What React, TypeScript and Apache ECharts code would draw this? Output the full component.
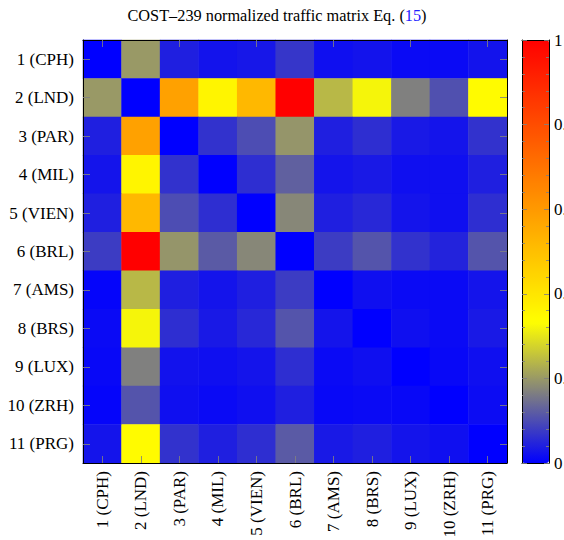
import React, { useEffect, useRef } from "react";
import * as echarts from "echarts";

const cities = [
  "1 (CPH)", "2 (LND)", "3 (PAR)", "4 (MIL)", "5 (VIEN)", "6 (BRL)",
  "7 (AMS)", "8 (BRS)", "9 (LUX)", "10 (ZRH)", "11 (PRG)",
];

const rowCPH = [0, 0.2, 0.04, 0.025, 0.03, 0.07, 0.02, 0.025, 0.013, 0.013, 0.025];
const rowLND = [0.2, 0, 0.58, 0.36, 0.52, 1.0, 0.24, 0.32, 0.167, 0.105, 0.345];
const rowPAR = [0.04, 0.58, 0, 0.065, 0.1, 0.195, 0.04, 0.06, 0.033, 0.026, 0.065];
const rowMIL = [0.026, 0.36, 0.065, 0, 0.06, 0.125, 0.026, 0.033, 0.02, 0.02, 0.04];
const rowVIEN = [0.04, 0.52, 0.1, 0.06, 0, 0.177, 0.04, 0.052, 0.026, 0.02, 0.06];
const rowBRL = [0.078, 1.0, 0.195, 0.118, 0.177, 0, 0.078, 0.11, 0.065, 0.046, 0.11];
const rowAMS = [0.007, 0.24, 0.04, 0.026, 0.04, 0.078, 0, 0.02, 0.013, 0.013, 0.026];
const rowBRS = [0.013, 0.32, 0.06, 0.033, 0.052, 0.11, 0.026, 0, 0.02, 0.013, 0.033];
const rowLUX = [0.01, 0.167, 0.024, 0.02, 0.026, 0.06, 0.013, 0.02, 0, 0.01, 0.02];
const rowZRH = [0.007, 0.11, 0.02, 0.013, 0.02, 0.04, 0.01, 0.013, 0.01, 0, 0.016];
const rowPRG = [0.026, 0.345, 0.065, 0.04, 0.06, 0.118, 0.033, 0.04, 0.026, 0.02, 0];

const matrixRows = [rowCPH, rowLND, rowPAR, rowMIL, rowVIEN, rowBRL, rowAMS, rowBRS, rowLUX, rowZRH, rowPRG];

const colorbarMin = 0;
const colorbarMax = 1;
const colorbarStep = 0.2;

const FONT = "'Liberation Serif', 'Times New Roman', serif";
const TICK = "rgba(128,128,128,0.85)";

export default function App() {
  const ref = useRef<HTMLDivElement>(null);

  useEffect(() => {
    if (!ref.current) return;
    const chart = echarts.init(ref.current, undefined, { renderer: "svg" });

    const data: [number, number, number][] = [];
    matrixRows.forEach((row, r) => {
      row.forEach((v, c) => data.push([c, r, v]));
    });

    const catTickInside = { show: true, inside: true, length: 7, alignWithLabel: true, lineStyle: { color: TICK, width: 1 } };
    const blackLine = { show: true, onZero: false, lineStyle: { color: "#000", width: 1 } };

    chart.setOption({
      animation: false,
      backgroundColor: "#fff",
      title: {
        text: "COST–239 normalized traffic matrix Eq. ({b|15})",
        left: 272,
        textAlign: "center",
        top: 2,
        textStyle: {
          fontFamily: FONT,
          fontSize: 16.3,
          fontWeight: "normal",
          color: "#000",
          rich: { b: { fontFamily: FONT, fontSize: 16.3, color: "#2020ff" } },
        },
      },
      grid: [
        { left: 83, top: 40, width: 424, height: 423, containLabel: false, outerBoundsMode: "none" },
        { left: 522, top: 40, width: 27, height: 423, containLabel: false, outerBoundsMode: "none" },
      ],
      xAxis: [
        {
          type: "category", gridIndex: 0, position: "bottom", data: cities, z: 10,
          axisLine: blackLine, axisTick: catTickInside,
          axisLabel: { rotate: 90, fontFamily: FONT, fontSize: 17, color: "#000", margin: 8 },
          splitLine: { show: false },
        },
        {
          type: "category", gridIndex: 0, position: "top", data: cities, z: 10,
          axisLine: blackLine, axisTick: catTickInside, axisLabel: { show: false },
          splitLine: { show: false },
        },
        {
          type: "value", gridIndex: 1, position: "bottom", min: 0, max: 1, z: 10,
          axisLine: blackLine, axisTick: { show: false }, axisLabel: { show: false }, splitLine: { show: false },
        },
        {
          type: "value", gridIndex: 1, position: "top", min: 0, max: 1, z: 10,
          axisLine: blackLine, axisTick: { show: false }, axisLabel: { show: false }, splitLine: { show: false },
        },
      ],
      yAxis: [
        {
          type: "category", gridIndex: 0, position: "left", inverse: true, data: cities, z: 10,
          axisLine: blackLine, axisTick: catTickInside,
          axisLabel: { fontFamily: FONT, fontSize: 17, color: "#000", margin: 9 },
          splitLine: { show: false },
        },
        {
          type: "category", gridIndex: 0, position: "right", inverse: true, data: cities, z: 10,
          axisLine: blackLine, axisTick: catTickInside, axisLabel: { show: false },
          splitLine: { show: false },
        },
        {
          type: "value", gridIndex: 1, position: "left", min: colorbarMin, max: colorbarMax, interval: colorbarStep, z: 10,
          axisLine: blackLine,
          axisTick: { show: true, inside: true, length: 5, lineStyle: { color: TICK } },
          minorTick: { show: true, splitNumber: 5, length: 3, lineStyle: { color: TICK } },
          axisLabel: { show: false }, splitLine: { show: false },
        },
        {
          type: "value", gridIndex: 1, position: "right", min: colorbarMin, max: colorbarMax, interval: colorbarStep, z: 10,
          axisLine: blackLine,
          axisTick: { show: true, inside: true, length: 5, lineStyle: { color: TICK } },
          minorTick: { show: true, splitNumber: 5, length: 3, lineStyle: { color: TICK } },
          axisLabel: { show: true, fontFamily: FONT, fontSize: 17, color: "#000", margin: 5 },
          splitLine: { show: false },
        },
      ],
      visualMap: {
        type: "continuous",
        seriesIndex: 0,
        min: colorbarMin,
        max: colorbarMax,
        calculable: false,
        show: true,
        orient: "vertical",
        left: 522,
        top: 40,
        itemWidth: 27,
        itemHeight: 423,
        padding: 0,
        text: ["", ""],
        textGap: 0,
        inRange: { color: ["#0000ff", "#ffff00", "#ff8000", "#ff0000"] },
      },
      series: [
        {
          type: "heatmap",
          xAxisIndex: 0,
          yAxisIndex: 0,
          data,
          itemStyle: { borderWidth: 0 },
          emphasis: { disabled: true },
        },
      ],
    });

    return () => chart.dispose();
  }, []);

  return (
    <div
      ref={ref}
      style={{ position: "fixed", left: 0, top: 0, width: 564, height: 540, background: "#fff" }}
    />
  );
}
